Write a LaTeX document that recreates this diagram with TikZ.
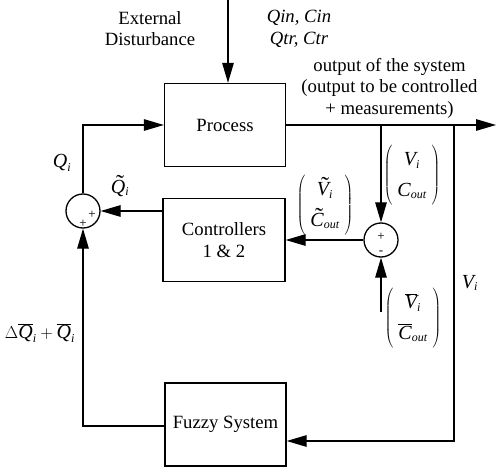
\documentclass[tikz,border=0pt]{standalone}
\usepackage{fontspec}
\setmainfont{Liberation Serif}
\usetikzlibrary{arrows.meta}
\newcommand{\mi}[1]{\hbox{\fontsize{20}{20}\selectfont\itshape #1}}
\newcommand{\ms}[1]{\hbox{\fontsize{12}{12}\selectfont\itshape #1}}
\newcommand{\tl}[1]{\hbox{\ooalign{\mi{#1}\cr\hidewidth\kern4pt\raisebox{2pt}{\fontsize{24}{24}\selectfont\char"02DC}\hidewidth\cr}}}
\newcommand{\mainfs}{\fontsize{18.7}{21.5}\selectfont}
\begin{document}
\begin{tikzpicture}[x=1pt,y=-1pt, line width=1.3pt,
  box/.style={draw, minimum width=121pt, minimum height=83pt, inner sep=0pt, align=center, font=\mainfs},
  sumnode/.style={draw, circle, minimum size=34pt, inner sep=0pt},
  arr/.style={-{Triangle[length=20pt,width=11.5pt]}},
  lbl/.style={inner sep=0pt, align=center, font=\mainfs},
  sgn/.style={inner sep=0pt, font=\fontsize{13}{13}\selectfont}]
\useasboundingbox (0,0) rectangle (497,470);
\renewcommand{\arraystretch}{1.4}
% blocks
\node[box] (proc) at (225,125) {Process};
\node[box, minimum width=122pt] (ctrl) at (224,240) {Controllers\\1 \& 2};
\node[box] (fuzz) at (225.5,424.5) {Fuzzy System};
\node[sumnode] (sl) at (83,211) {};
\node[sumnode] (sr) at (381,240) {};
% coordinates
\coordinate (dtop) at (228,0);
\coordinate (out) at (496,125);
\coordinate (b1) at (381,125);
\coordinate (b2) at (454,125);
\coordinate (fin) at (fuzz.east |- 0,441);
\coordinate (bot) at (381,312);
% connectors
\draw[arr] (dtop) -- (dtop |- proc.north);
\draw[arr] (proc.east) -- (out);
\draw[arr] (b1) -- (sr.north);
\draw[arr] (b2) |- (fin);
\draw[arr] (bot) -- (sr.south);
\draw[arr] (sr.west) -- (ctrl.east);
\draw[arr] (ctrl.west |- sl) -- (sl.east);
\draw[arr] (sl.north) |- (proc.west);
\draw[arr] (fuzz.west |- 0,426) -| (sl.south);
% signs
\node[sgn] (p1) at (92,215) {+};
\node[sgn] (p2) at (83,224) {+};
\node[sgn] (p3) at (381,237) {+};
\node[sgn] (m1) at (381,253) {-};
% labels
\node[lbl] (ext) at (150,28.5) {External\\Disturbance};
\node[lbl, font=\mainfs\itshape] (qin) at (299,29) {Qin, Cin\\Qtr, Ctr};
\node[lbl] (outtxt) at (389.5,88) {output of the system\\(output to be controlled\\+ measurements)};
\node[lbl] (qi) at (62,163) {$\mi{Q}_{\ms{i}}$};
\node[lbl] (qti) at (120,188) {$\tl{Q}_{\ms{i}}$};
\node[lbl] (vc) at (412,175) {$\left(\begin{array}{c}\mi{V}_{\ms{i}}\\ \mi{C}_{\ms{out}}\end{array}\right)$};
\node[lbl] (vct) at (325,205) {$\left(\begin{array}{c}\tl{V}_{\ms{i}}\\ \tl{C}_{\ms{out}}\end{array}\right)$};
\node[lbl] (vcb) at (413,318) {$\left(\begin{array}{c}\overline{\mi{V}}_{\ms{i}}\\ \overline{\mi{C}}_{\ms{out}}\end{array}\right)$};
\node[lbl] (vi) at (470,283) {$\mi{V}_{\ms{i}}$};
\node[lbl] (dq) at (40,333) {$\Delta\overline{\mi{Q}}_{\ms{i}}+\overline{\mi{Q}}_{\ms{i}}$};
\end{tikzpicture}
\end{document}
